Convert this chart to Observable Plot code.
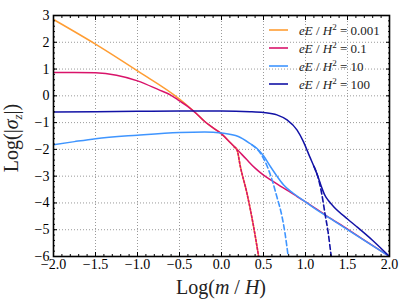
<!DOCTYPE html>
<html><head><meta charset="utf-8">
<script src="https://cdn.jsdelivr.net/npm/d3@7"></script>
<script src="https://cdn.jsdelivr.net/npm/@observablehq/plot@0.6"></script>
<style>body{margin:0;background:#fff} svg{display:block}</style>
</head><body><div id="chart"></div>
<script>
// ---- data ----
const xTicks = [-2, -1.5, -1, -0.5, 0, 0.5, 1, 1.5, 2];
const yTicks = [-6, -5, -4, -3, -2, -1, 0, 1, 2, 3];
const seriesLabels = ["0.001", "0.1", "10", "100"];
const seriesColors = ["#ff9d33", "#d9136a", "#3f95ff", "#1212a6"];

// eE/H^2 = 0.001 (solid)
const orangeX = [-2, -1.5, -1, -0.5, -0.4, -0.3, -0.2, -0.1, 0, 0.1, 0.2];
const orangeY = [2.85, 1.93, 0.93, -0.12, -0.38, -0.66, -0.96, -1.2, -1.42, -1.73, -2.05];
// eE/H^2 = 0.001 (dashed)
const orangeDashX = [0.15, 0.186, 0.225, 0.304, 0.383, 0.442];
const orangeDashY = [-1.9, -2.03, -2.65, -3.65, -4.9, -6.0];

// eE/H^2 = 0.1 (solid)
const redX = [-2, -1.75, -1.5, -1.25, -1, -0.75, -0.6, -0.5, -0.4, -0.3, -0.2, -0.1, 0, 0.1, 0.2, 0.3, 0.4, 0.5, 0.6, 0.7, 0.8, 0.9, 1.0, 1.25, 1.5, 1.75, 2.0];
const redY = [0.87, 0.87, 0.86, 0.77, 0.56, 0.23, 0.02, -0.19, -0.4, -0.66, -0.96, -1.2, -1.42, -1.73, -2.05, -2.38, -2.7, -2.96, -3.17, -3.37, -3.56, -3.76, -3.96, -4.48, -4.98, -5.49, -6.0];
// eE/H^2 = 0.1 (dashed)
const redDashX = [0.15, 0.186, 0.225, 0.304, 0.383, 0.442];
const redDashY = [-1.9, -2.03, -2.65, -3.65, -4.9, -6.0];

// eE/H^2 = 10 (solid)
const lightX = [-2, -1.75, -1.5, -1, -0.5, -0.2, 0, 0.2, 0.34, 0.42, 0.5, 0.58, 0.66, 0.74, 0.85, 1.0, 1.13, 1.33, 1.5, 1.75, 2.0];
const lightY = [-1.83, -1.71, -1.6, -1.47, -1.37, -1.35, -1.39, -1.52, -1.78, -1.96, -2.24, -2.63, -3.0, -3.33, -3.63, -3.96, -4.25, -4.65, -5.0, -5.5, -6.0];
// eE/H^2 = 10 (dashed)
const lightDashX = [0.36, 0.42, 0.46, 0.54, 0.6, 0.66, 0.72, 0.757, 0.794];
const lightDashY = [-1.82, -1.98, -2.13, -2.6, -3.12, -3.78, -4.5, -5.15, -6.0];

// eE/H^2 = 100 (solid)
const darkX = [-2, -1, -0.5, 0, 0.34, 0.5, 0.66, 0.78, 0.9, 0.975, 1.05, 1.11, 1.15, 1.19, 1.23, 1.27, 1.33, 1.5, 1.6, 1.8, 2.0];
const darkY = [-0.6, -0.58, -0.57, -0.57, -0.59, -0.62, -0.71, -0.9, -1.28, -1.71, -2.27, -2.71, -3.03, -3.4, -3.71, -3.9, -4.12, -4.6, -4.86, -5.4, -6.0];
// eE/H^2 = 100 (dashed)
const darkDashX = [1.1, 1.15, 1.193, 1.232, 1.272, 1.3, 1.307];
const darkDashY = [-2.63, -3.05, -3.65, -4.4, -5.15, -5.84, -6.0];

// ---- build tables ----
const rows = (xs, ys, k) => xs.map((x, i) => ({x, y: ys[i], k}));
const solids = [
  rows(orangeX, orangeY, 0), rows(redX, redY, 1), rows(lightX, lightY, 2), rows(darkX, darkY, 3)
];
const dashes = [
  rows(orangeDashX, orangeDashY, 0), rows(redDashX, redDashY, 1), rows(lightDashX, lightDashY, 2), rows(darkDashX, darkDashY, 3)
];
// orange approximation drawn as an underlay, the red dots on top of it
const dashPatterns = [null, "2,2", "5,3", "5,3"];

const xMinor = d3.range(-20, 21).map(i => i / 10);
const yMinor = d3.range(-30, 16).map(i => i / 5);

const serif = "'Liberation Serif', 'DejaVu Serif', serif";

const lineMarks = [];
for (let k = 0; k < 4; k++) {
  lineMarks.push(Plot.line(solids[k], {x: "x", y: "y", stroke: seriesColors[k], strokeWidth: 1.5, curve: "monotone-x"}));
}
for (let k = 0; k < 4; k++) {
  const opts = {x: "x", y: "y", stroke: seriesColors[k], strokeWidth: 1.6, curve: "monotone-x"};
  if (dashPatterns[k]) opts.strokeDasharray = dashPatterns[k];
  lineMarks.push(Plot.line(dashes[k], opts));
}

const svg = Plot.plot({
  width: 407, height: 305,
  marginLeft: 53, marginRight: 18, marginTop: 15, marginBottom: 49,
  style: {fontFamily: serif, fontSize: "14px", background: "white", color: "black"},
  x: {domain: [-2, 2]},
  y: {domain: [-6, 3]},
  clip: true,
  marks: [
    Plot.gridX(xTicks, {stroke: "#9a9a9a", strokeOpacity: 1, strokeDasharray: "1,2"}),
    Plot.gridY(yTicks, {stroke: "#9a9a9a", strokeOpacity: 1, strokeDasharray: "1,2"}),
    ...lineMarks,
    // inward ticks
    Plot.axisX({anchor: "bottom", ticks: xTicks, tickSize: -4, fill: "none", label: null}),
    Plot.axisX({anchor: "top", ticks: xTicks, tickSize: -4, fill: "none", label: null}),
    Plot.axisX({anchor: "bottom", ticks: xMinor, tickSize: -2, fill: "none", label: null}),
    Plot.axisX({anchor: "top", ticks: xMinor, tickSize: -2, fill: "none", label: null}),
    Plot.axisY({anchor: "left", ticks: yTicks, tickSize: -4, fill: "none", label: null}),
    Plot.axisY({anchor: "right", ticks: yTicks, tickSize: -4, fill: "none", label: null}),
    Plot.axisY({anchor: "left", ticks: yMinor, tickSize: -2, fill: "none", label: null}),
    Plot.axisY({anchor: "right", ticks: yMinor, tickSize: -2, fill: "none", label: null}),
    // tick labels
    Plot.axisX({anchor: "bottom", ticks: xTicks, tickSize: 0, tickPadding: 3, tickFormat: d3.format(".1f"), label: null, fontSize: 14}),
    Plot.axisY({anchor: "left", ticks: yTicks, tickSize: 0, tickPadding: 4, tickFormat: d3.format("d"), label: null, fontSize: 14}),
    Plot.frame({stroke: "black", strokeWidth: 1.6})
  ]
});

const s = d3.select(svg);
const W = 407, mR = 18;
// legend
const lg = s.append("g").attr("font-family", serif).attr("font-size", 13).attr("text-anchor", "start");
seriesLabels.forEach((lab, i) => {
  const y = 30 + 18 * i;
  lg.append("line").attr("x1", W - mR - 120).attr("x2", W - mR - 101).attr("y1", y).attr("y2", y)
    .attr("stroke", seriesColors[i]).attr("stroke-width", 1.6);
  const t = lg.append("text").attr("x", W - mR - 90).attr("y", y + 4.5).attr("fill", "#222").attr("text-anchor", "start");
  t.append("tspan").attr("font-style", "italic").text("eE");
  t.append("tspan").text(" / ");
  t.append("tspan").attr("font-style", "italic").text("H");
  t.append("tspan").attr("dy", -5).attr("font-size", 9).text("2");
  t.append("tspan").attr("dy", 5).text(" = " + lab);
});
// x axis title
const xt = s.append("text").attr("x", 221).attr("y", 294).attr("text-anchor", "middle")
  .attr("font-family", serif).attr("font-size", 20).attr("fill", "#222");
xt.append("tspan").text("Log(");
xt.append("tspan").attr("font-style", "italic").text("m");
xt.append("tspan").text(" / ");
xt.append("tspan").attr("font-style", "italic").text("H");
xt.append("tspan").text(")");
// y axis title
const yt = s.append("text").attr("transform", "translate(18,138) rotate(-90)").attr("text-anchor", "middle")
  .attr("font-family", serif).attr("font-size", 20).attr("fill", "#222");
yt.append("tspan").text("Log(|");
yt.append("tspan").attr("font-style", "italic").text("σ");
yt.append("tspan").attr("font-style", "italic").attr("font-size", 13).attr("dy", 4).text("z");
yt.append("tspan").attr("dy", -4).text("|)");

document.getElementById("chart").appendChild(svg);
</script>
</body></html>
